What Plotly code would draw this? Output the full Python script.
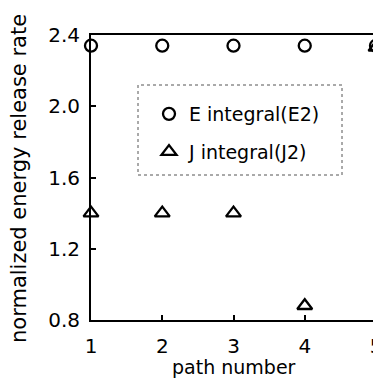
import plotly.graph_objects as go

path_number = [1, 2, 3, 4, 5]
e_integral = [2.34, 2.34, 2.34, 2.34, 2.34]
j_integral = [1.40, 1.40, 1.40, 0.88, 2.33]
x_ticks = [1, 2, 3, 4, 5]
y_ticks = [0.8, 1.2, 1.6, 2.0, 2.4]
y_ticklabels = ["0.8", "1.2", "1.6", "2.0", "2.4"]

FONT = "DejaVu Sans"
# the page body has an 8px margin; work in figure pixels (= page pixels - 8)
OFF = 8
W, H = 381 - OFF, 380 - OFF
L, T = 91 - OFF, 35 - OFF
R = W - (376 - OFF)
B = H - (320 - OFF)
PW, PH = W - L - R, H - T - B


def fx(px):  # page x -> paper fraction
    return (px - OFF - L) / PW


def fy(py):  # page y -> paper fraction
    return (H - B - (py - OFF)) / PH


fig = go.Figure()
fig.add_trace(go.Scatter(
    x=path_number, y=e_integral, mode="markers", name="E integral(E2)",
    legendgroup="e", cliponaxis=False,
    marker=dict(symbol="circle-open", size=12, color="black", line=dict(width=2.3, color="black")),
))
fig.add_trace(go.Scatter(
    x=path_number, y=j_integral, mode="markers", name="J integral(J2)",
    legendgroup="j", cliponaxis=False,
    marker=dict(symbol="triangle-up-open", size=13, color="black", line=dict(width=2.3, color="black")),
))

fig.update_layout(
    width=W, height=H,
    margin=dict(l=L, r=R, t=T, b=B, autoexpand=False),
    paper_bgcolor="white", plot_bgcolor="white",
    font=dict(family=FONT, color="black", size=20),
    showlegend=True,
    legend=dict(
        x=fx(149), y=fy(95), xanchor="left", yanchor="top",
        bgcolor="rgba(0,0,0,0)", borderwidth=0,
        font=dict(family=FONT, size=19, color="black"),
        traceorder="grouped", tracegroupgap=10,
    ),
    xaxis=dict(
        range=[1, 5], tickvals=x_ticks, ticktext=[str(v) for v in x_ticks],
        showgrid=False, zeroline=False, automargin=False,
        showline=True, linewidth=2, linecolor="black", mirror=True,
        ticks="inside", ticklen=5, tickwidth=1.5, tickcolor="black",
        tickfont=dict(family=FONT, size=20), ticklabelstandoff=7,
        ticklabeloverflow="allow",
    ),
    yaxis=dict(
        range=[0.8, 2.4], tickvals=y_ticks, ticktext=y_ticklabels,
        showgrid=False, zeroline=False, automargin=False,
        showline=True, linewidth=2, linecolor="black", mirror=True,
        ticks="inside", ticklen=5, tickwidth=1.5, tickcolor="black",
        tickfont=dict(family=FONT, size=20), ticklabelstandoff=5,
        ticklabeloverflow="allow",
    ),
    annotations=[
        dict(text="path number", xref="paper", yref="paper",
             x=fx(234), y=fy(367), xanchor="center", yanchor="middle",
             showarrow=False, font=dict(family=FONT, size=19)),
        dict(text="normalized energy release rate", xref="paper", yref="paper",
             x=fx(19), y=fy(179), xanchor="center", yanchor="middle",
             textangle=-90, showarrow=False, font=dict(family=FONT, size=21)),
    ],
    shapes=[dict(
        type="rect", xref="paper", yref="paper",
        x0=fx(138), x1=fx(342), y0=fy(175), y1=fy(85),
        line=dict(color="#555", width=1, dash="dot"),
    )],
)

fig.write_html("out.html")
